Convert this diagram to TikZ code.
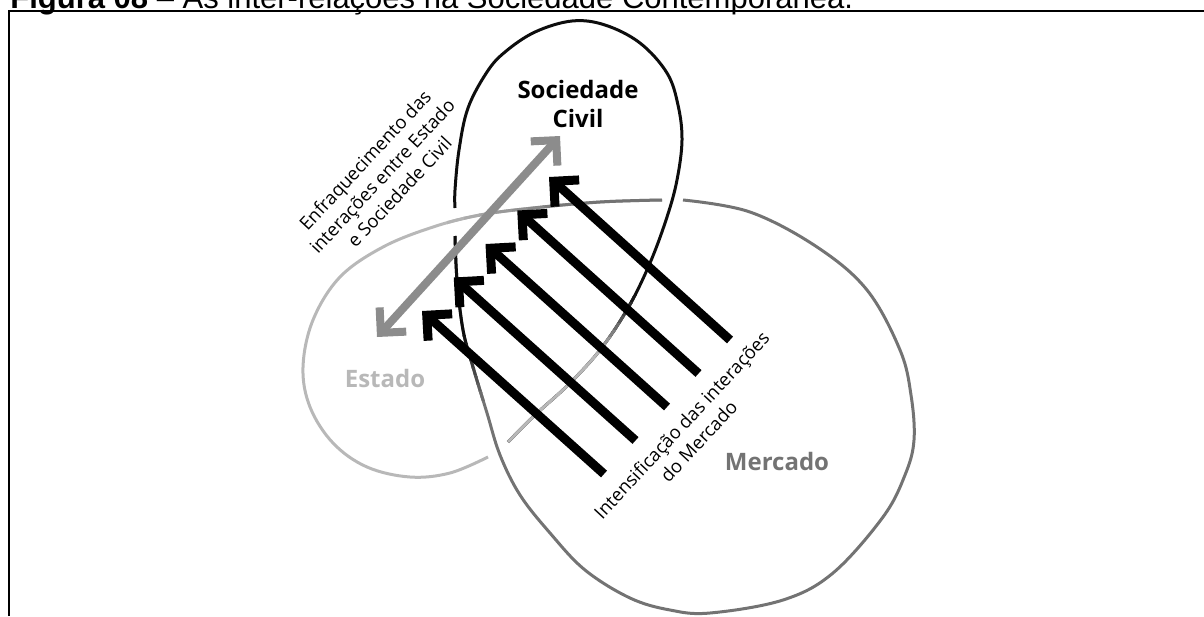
\documentclass[tikz,border=0pt]{standalone}
\usepackage{fontspec}
\usepackage{tikz}
\usetikzlibrary{arrows.meta,calc,positioning}
\newfontfamily\figfont{Open Sans}
\newfontfamily\titlefont{Liberation Sans}
\definecolor{socblack}{gray}{0.05}
\definecolor{mergray}{gray}{0.45}
\definecolor{estgray}{gray}{0.72}
\definecolor{arrowgray}{gray}{0.55}
\tikzstyle{knotline}=[line width=1.5pt]
\tikzstyle{regionname}=[font=\figfont\bfseries\fontsize{12}{14.5}\selectfont,align=center,inner sep=0pt]
\tikzstyle{notetext}=[font=\figfont\fontsize{9.2}{11.75}\selectfont,align=center,inner sep=0pt,rotate=47]
\tikzstyle{pusharrow}=[line width=4.5pt,-{Straight Barb[sharp,length=9pt,width=18pt]}]
\tikzstyle{weakarrow}=[line width=4pt,arrowgray,{Straight Barb[sharp,length=9pt,width=18pt]}-{Straight Barb[sharp,length=9pt,width=18pt]}]
% the three strands of the knot, cut where they pass under
\def\arcSoc{plot[smooth,tension=0.6] coordinates {(508,442) (535,415) (568,385) (600,350) (628,308) (650,263) (667,217) (677,180) (682,140) (678,105) (667,73) (640,43) (605,25) (572,21) (535,32) (505,52) (487,72) (468,108) (459,150) (455,190) (455,208)}}
\def\arcMer{plot[smooth,tension=0.6] coordinates {(455,236) (457,280) (463,330) (473,367) (487,413) (500,455) (520,495) (550,533) (585,570) (630,598) (670,610) (710,613) (783,600) (833,573) (883,517) (905,475) (914,440) (911,395) (900,350) (867,290) (817,247) (750,212) (683,200)}}
\def\arcEst{plot[smooth,tension=0.6] coordinates {(662,200) (600,202) (533,208) (480,215) (433,227) (383,247) (340,277) (313,320) (303,367) (310,407) (333,443) (367,467) (410,477) (450,473) (488,457)}}

\begin{document}
\begin{tikzpicture}[x=0.5pt,y=-0.5pt]
  \useasboundingbox (0,0) rectangle (1204,616);

  % frame and caption
  \draw[line width=1.25pt] (9,616) -- (9,11) -- (1204,11);
  \node[anchor=base west,inner sep=0pt,font=\titlefont\fontsize{15.5}{18}\selectfont] (caption) at (10,8)
    {\textbf{Figura 08} – As inter-relações na Sociedade Contemporânea.};

  % Sociedade Civil strand (light grey out of Estado, then black)
  \draw[knotline,socblack] \arcSoc;
  \begin{scope}
    \clip (400,350) rectangle (800,470);
    \draw[knotline,estgray] \arcSoc;
  \end{scope}
  \foreach \k in {0,...,7}{
    \pgfmathtruncatemacro{\p}{6+12.5*\k}
    \begin{scope}
      \clip (400,{295+7*\k}) rectangle (800,{303+7*\k});
      \draw[knotline,estgray!\p!socblack] \arcSoc;
    \end{scope}
  }

  % Mercado strand (black out of Sociedade Civil, then grey)
  \draw[knotline,mergray] \arcMer;
  \begin{scope}
    \clip (400,200) rectangle (520,336);
    \draw[knotline,socblack] \arcMer;
  \end{scope}
  \foreach \k in {0,...,7}{
    \pgfmathtruncatemacro{\p}{6+12.5*\k}
    \begin{scope}
      \clip (400,{335+8*\k}) rectangle (520,{344+8*\k});
      \draw[knotline,mergray!\p!socblack] \arcMer;
    \end{scope}
  }

  % Estado strand (grey out of Mercado, then light grey)
  \draw[knotline,estgray] \arcEst;
  \begin{scope}
    \clip (575,150) rectangle (700,300);
    \draw[knotline,mergray] \arcEst;
  \end{scope}
  \foreach \k in {0,...,7}{
    \pgfmathtruncatemacro{\p}{6+12.5*\k}
    \begin{scope}
      \clip ({559-16*\k},150) rectangle ({576-16*\k},300);
      \draw[knotline,estgray!\p!mergray] \arcEst;
    \end{scope}
  }

  % arrows
  \coordinate (estend) at (377,337);
  \coordinate (socend) at (560,136);
  \draw[weakarrow] (estend) -- (socend);
  \foreach \i in {0,...,4}{
    \coordinate (tail\i) at ({604+31.5*\i},{474-33.5*\i});
    \coordinate (tip\i) at ({422+31.75*\i},{311-33.5*\i});
    \draw[pusharrow] (tail\i) -- (tip\i);
  }

  % names and notes
  \node[regionname] (soc) at (578,104) {Sociedade\\Civil};
  \node[regionname,text=estgray] (est) at (385,378) {Estado};
  \node[regionname,text=mergray] (mer) at (777,461) {Mercado};
  \node[notetext] (weaknote) at (382,176) {Enfraquecimento das\\interações entre Estado\\e Sociedade Civil};
  \node[notetext] (pushnote) at (690,433) {Intensificação das interações\\do Mercado};
\end{tikzpicture}
\end{document}
